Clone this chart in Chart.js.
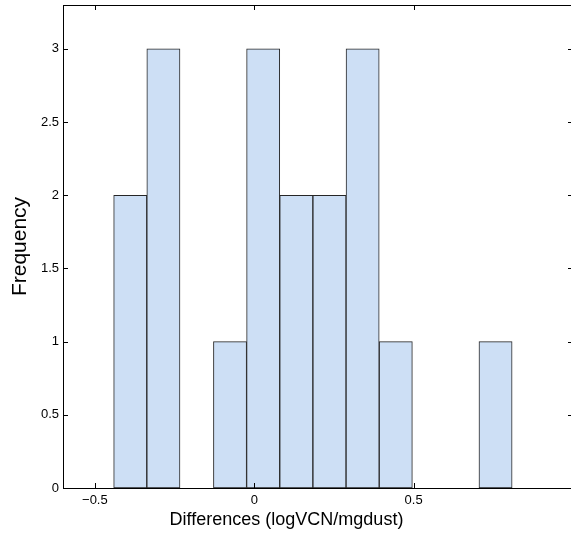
<!DOCTYPE html>
<html>
<head>
<meta charset="utf-8">
<script src="https://cdn.jsdelivr.net/npm/chart.js@4.4.1/dist/chart.umd.min.js"></script>
<style>
html, body { margin: 0; padding: 0; overflow: hidden; background: #fff; }
#wrap { width: 580px; height: 535px; position: relative; }
</style>
</head>
<body>
<div id="wrap"><canvas id="hist-chart"></canvas></div>
<script>
// histogram bins (centres) and counts
const binCenters = [-0.389, -0.285, -0.180, -0.076, 0.028, 0.132, 0.236, 0.340, 0.444, 0.549, 0.653, 0.757];
const counts = [2, 3, 0, 1, 3, 2, 2, 3, 1, 0, 0, 1];
const xTicks = [-0.5, 0, 0.5];
const yTicks = [0, 0.5, 1, 1.5, 2, 2.5, 3];

const fmt = v => v < 0 ? '\u2212' + Math.abs(v) : String(v);

// MATLAB style box: inward ticks on all four sides (right edge runs off the page)
const frameTicks = {
    id: 'frameTicks',
    afterDraw(chart) {
        const { ctx, chartArea: a, scales: { x, y } } = chart;
        ctx.save();
        ctx.strokeStyle = '#000';
        ctx.lineWidth = 1;
        ctx.beginPath();
        ctx.moveTo(a.left, a.top + 0.5);
        ctx.lineTo(a.right, a.top + 0.5);
        x.ticks.forEach(t => {
            const px = Math.round(x.getPixelForValue(t.value)) + 0.5;
            ctx.moveTo(px, a.bottom);
            ctx.lineTo(px, a.bottom - 5);
            ctx.moveTo(px, a.top);
            ctx.lineTo(px, a.top + 5);
        });
        y.ticks.forEach(t => {
            const py = Math.round(y.getPixelForValue(t.value)) + 0.5;
            ctx.moveTo(a.left, py);
            ctx.lineTo(a.left + 5, py);
            ctx.moveTo(a.right, py);
            ctx.lineTo(a.right - 5, py);
        });
        ctx.stroke();
        ctx.restore();
    }
};

const ctx = document.getElementById('hist-chart').getContext('2d');
new Chart(ctx, {
    type: 'bar',
    data: {
        datasets: [{
            data: binCenters.map((c, i) => ({ x: c, y: counts[i] })),
            backgroundColor: '#cddff5',
            borderColor: '#262626',
            borderWidth: 1,
            borderSkipped: false,
            barPercentage: 1,
            categoryPercentage: 1,
            grouped: false
        }]
    },
    options: {
        responsive: true,
        maintainAspectRatio: false,
        devicePixelRatio: 1,
        animation: false,
        layout: { padding: { top: 5, right: 7, left: 0, bottom: 0 } },
        plugins: {
            legend: { display: false },
            tooltip: { enabled: false },
            title: {
                display: true,
                position: 'bottom',
                text: 'Differences (logVCN/mgdust)',
                color: '#000',
                font: { family: 'Liberation Sans', size: 18, weight: 'normal' },
                padding: { top: 0, bottom: 4 }
            }
        },
        scales: {
            x: {
                type: 'linear',
                offset: false,
                min: -0.6,
                max: 1.0,
                afterBuildTicks: scale => { scale.ticks = xTicks.map(v => ({ value: v })); },
                afterFit: scale => {
                    scale.height = 21.4;
                    scale.paddingLeft = 0;
                    scale.paddingRight = 0;
                },
                grid: { display: false, drawTicks: false },
                border: { display: true, color: '#000', width: 1 },
                ticks: {
                    padding: 5,
                    maxRotation: 0,
                    color: '#000',
                    font: { family: 'Liberation Sans', size: 13 },
                    callback: v => fmt(v)
                }
            },
            y: {
                min: 0,
                max: 3.3,
                afterBuildTicks: scale => { scale.ticks = yTicks.map(v => ({ value: v })); },
                afterFit: scale => {
                    scale.width = 63;
                    scale.paddingTop = 0;
                    scale.paddingBottom = 0;
                },
                grid: { display: false, drawTicks: false },
                border: { display: true, color: '#000', width: 1 },
                ticks: {
                    padding: 4,
                    color: '#000',
                    font: { family: 'Liberation Sans', size: 13 },
                    callback: v => fmt(v)
                },
                title: {
                    display: true,
                    text: 'Frequency',
                    color: '#000',
                    font: { family: 'Liberation Sans', size: 21 },
                    padding: { top: 8, bottom: 0 }
                }
            }
        }
    },
    plugins: [frameTicks]
});
</script>
</body>
</html>
